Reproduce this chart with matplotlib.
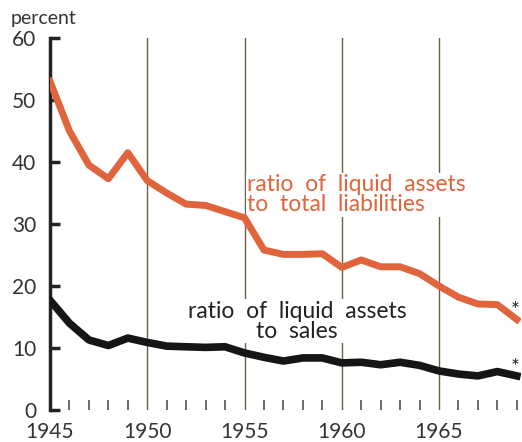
import numpy as np
import matplotlib.pyplot as plt

years = np.arange(1945, 1970)
liab = [53.0, 45.0, 39.5, 37.3, 41.5, 37.0, 35.0, 33.2, 33.0, 32.0, 31.0,
        25.8, 25.1, 25.1, 25.2, 23.0, 24.2, 23.1, 23.1, 22.0, 20.0,
        18.2, 17.1, 17.0, 14.6]
sales = [17.7, 14.0, 11.3, 10.4, 11.6, 10.9, 10.3, 10.2, 10.1, 10.2, 9.2,
         8.5, 7.9, 8.4, 8.4, 7.6, 7.7, 7.3, 7.7, 7.2, 6.3,
         5.8, 5.5, 6.2, 5.5]
grid_years = [1950, 1955, 1960, 1965]
major_years = [1945, 1950, 1955, 1960, 1965]

red = '#e0643c'
dark = '#222222'
plt.rcParams['font.family'] = ['Lato', 'DejaVu Sans']

fig = plt.figure(figsize=(5.22, 4.42), dpi=100)
ax = fig.add_axes([0.0958, 0.0724, 0.9017, 0.8416])

for g in grid_years:
    ax.plot([g, g], [0, 60], color='#6e5e48', lw=1.0, zorder=1)

ax.plot(years, liab, color=red, lw=5, solid_joinstyle='round', zorder=3)
ax.plot(years, sales, color='#151515', lw=5.5, solid_joinstyle='round', zorder=3)

ax.text(1955.15, 34.7, 'ratio  of  liquid  assets\nto  total  liabilities', color=red,
        fontsize=16.5, ha='left', va='center', linespacing=0.95, zorder=2,
        bbox=dict(facecolor='white', edgecolor='none', pad=1))
ax.text(1957.7, 14.3, 'ratio  of  liquid  assets\nto  sales', color=dark,
        fontsize=16.5, ha='center', va='center', linespacing=0.95, zorder=2,
        multialignment='center',
        bbox=dict(facecolor='white', edgecolor='none', pad=1))
ax.text(1968.9, 16.0, '*', color=dark, fontsize=15, ha='center', va='center')
ax.text(1968.9, 6.8, '*', color=dark, fontsize=15, ha='center', va='center')

ax.set_xlim(1945, 1969.2)
ax.set_ylim(0, 60)
for s in ['top', 'right', 'bottom']:
    ax.spines[s].set_visible(False)
ax.spines['left'].set_linewidth(2.5)
ax.spines['left'].set_color(dark)

ax.set_yticks(range(0, 61, 10))
ax.set_yticklabels([str(v) for v in range(0, 61, 10)])
ax.tick_params(axis='y', direction='in', length=7, width=2.5, color=dark,
               labelsize=15, labelcolor='#333333', pad=10)

ax.set_xticks(major_years)
ax.set_xticklabels([str(v) for v in major_years])
ax.set_xticks([y for y in years if y not in major_years], minor=True)
ax.tick_params(axis='x', which='major', length=0, labelsize=15,
               labelcolor='#333333', pad=9)
ax.tick_params(axis='x', which='minor', direction='in', length=7, width=1.1,
               color='#444444')

fig.text(0.02, 0.958, 'percent', fontsize=14, color='#333333', ha='left', va='center')

fig.savefig('out.png', dpi=100)
